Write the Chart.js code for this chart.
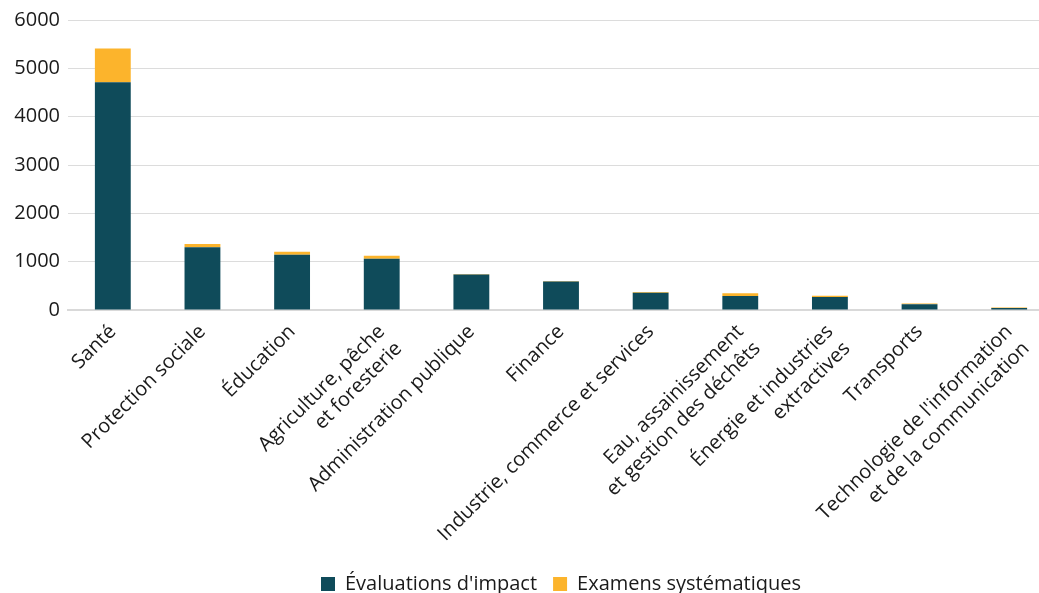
<!DOCTYPE html>
<html lang="fr">
<head>
  <meta charset="UTF-8" />
  <title>Évaluations d'impact par secteur</title>
  <style>
    html, body {
      margin: 0;
      padding: 0;
      background: #fff;
      overflow: hidden;
    }
    #wrap {
      width: 1054px;
      height: 593px;
    }
  </style>
</head>
<body>
  <div id="wrap"><canvas id="graphique"></canvas></div>

  <script src="https://cdn.jsdelivr.net/npm/chart.js"></script>
  <script>
    const secteurs = [
      "Santé",
      "Protection sociale",
      "Éducation",
      ["Agriculture, pêche", "et foresterie"],
      "Administration publique",
      "Finance",
      "Industrie, commerce et services",
      ["Eau, assainissement", "et gestion des déchêts"],
      ["Énergie et industries", "extractives"],
      "Transports",
      ["Technologie de l'information", "et de la communication"]
    ];
    const evaluations = [4710, 1300, 1145, 1060, 735, 590, 358, 290, 268, 118, 40];
    const examens = [700, 68, 60, 62, 8, 12, 14, 55, 28, 14, 12];
    const ticksY = [0, 1000, 2000, 3000, 4000, 5000, 6000];

    Chart.defaults.font.family = "'Open Sans', 'Noto Sans', sans-serif";
    Chart.defaults.color = "#1a1a1a";

    new Chart(document.getElementById("graphique"), {
      type: "bar",
      data: {
        labels: secteurs,
        datasets: [
          { label: "Évaluations d'impact", data: evaluations, backgroundColor: "#0f4b5a" },
          { label: "Examens systématiques", data: examens, backgroundColor: "#fcb42c" }
        ]
      },
      options: {
        responsive: true,
        maintainAspectRatio: false,
        animation: false,
        layout: { padding: { top: 16, right: 0, left: 0, bottom: -11 } },
        datasets: { bar: { categoryPercentage: 0.8, barPercentage: 0.5 } },
        plugins: {
          tooltip: { enabled: false },
          legend: {
            position: "bottom",
            fullSize: false,
            labels: { boxWidth: 14, boxHeight: 14, padding: 16, font: { size: 20 } }
          }
        },
        scales: {
          x: {
            stacked: true,
            afterFit: s => { s.height = 248; },
            grid: { display: false },
            border: { color: "#d9d9d9", width: 2 },
            ticks: { minRotation: 45, maxRotation: 45, font: { size: 20, lineHeight: 1.2 }, padding: 2 }
          },
          y: {
            stacked: true,
            min: 0,
            max: 6000,
            afterFit: s => { s.width = 68; },
            afterBuildTicks: s => { s.ticks = ticksY.map(v => ({ value: v })); },
            grid: { color: "#dcdcdc", lineWidth: 1, drawTicks: false },
            border: { display: false },
            ticks: { font: { size: 20 }, padding: 8, callback: v => String(v) }
          }
        }
      }
    });
  </script>
</body>
</html>
